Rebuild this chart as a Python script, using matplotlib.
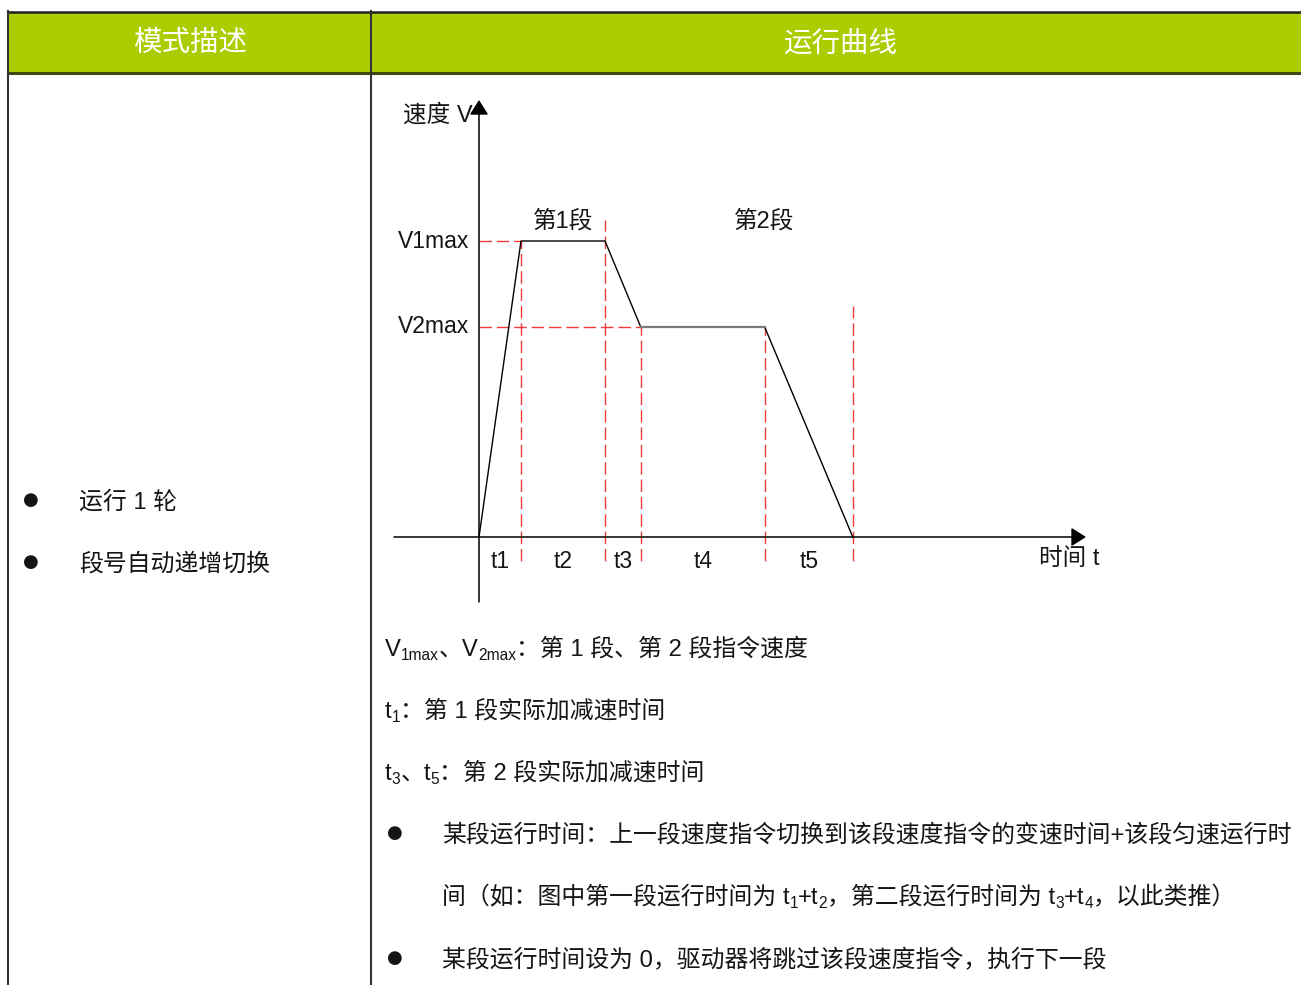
import matplotlib
matplotlib.use("Agg")
import matplotlib.pyplot as plt

plt.rcParams['font.family'] = ['Liberation Sans', 'Noto Sans CJK SC']

# data
headers = ['模式描述', '运行曲线']
left_items = ['运行 1 轮', '段号自动递增切换']
seg_times = [0, 1.0, 3.0, 3.85, 6.8, 8.9]      # t1..t5 boundaries
speeds = [0, 1.0, 1.0, 0.71, 0.71, 0]
t_labels = ['t1', 't2', 't3', 't4', 't5']
v_labels = ['V1max', 'V2max']
v_levels = [1.0, 0.71]
guide_tops = [1.0, 1.07, 0.71, 0.71, 0.78]      # top of each vertical guide
seg_names = ['第1段', '第2段']
seg_name_x = [2.0, 6.8]

W, H = 1301, 985
fig = plt.figure(figsize=(W / 100, H / 100), dpi=100)
ax = fig.add_axes([0, 0, 1, 1])
ax.set_xlim(0, W)
ax.set_ylim(H, 0)
ax.axis('off')

# table frame
GREEN = '#abcd00'
ax.fill_between([8, W], 12, 73, color=GREEN, lw=0)
ax.plot([8, W], [12, 12], color='#222222', lw=1.8)
ax.plot([8, W], [73, 73], color='#3d4a10', lw=2.2)
ax.plot([8, 8], [11, H], color='#333333', lw=1.5)
ax.plot([371, 371], [11, H], color='#333333', lw=1.5)
ax.text(190, 44, headers[0], color='white', fontsize=20.5, ha='center', va='center')
ax.text(841, 44, headers[1], color='white', fontsize=20.5, ha='center', va='center')

TXT = '#151515'
for y, s in zip([500, 562], left_items):
    ax.text(31, y, '●', fontsize=13, ha='center', va='center', color=TXT,
            family=['DejaVu Sans'])
    ax.text(79, y + 9, s, fontsize=17.2, ha='left', va='baseline', color=TXT)

renderer = fig.canvas.get_renderer()


def draw_runs(x, y, runs, size):
    # y is the text baseline in pixels; subscripts drop a little
    for s, sub in runs:
        fs = size * 0.65 if sub else size
        t = ax.text(x, y + (4 if sub else 0), s, fontsize=fs, ha='left',
                    va='baseline', color=TXT)
        x += t.get_window_extent(renderer).width


draw_runs(385, 656, [('V', 0), ('1max', 1), ('、V', 0), ('2max', 1),
                     ('：第 1 段、第 2 段指令速度', 0)], 17.2)
draw_runs(385, 718, [('t', 0), ('1', 1), ('：第 1 段实际加减速时间', 0)], 17.2)
draw_runs(385, 780, [('t', 0), ('3', 1), ('、t', 0), ('5', 1),
                     ('：第 2 段实际加减速时间', 0)], 17.2)

for y in [833, 958]:
    ax.text(395, y, '●', fontsize=13, ha='center', va='center', color=TXT,
            family=['DejaVu Sans'])
draw_runs(442, 842, [('某段运行时间：上一段速度指令切换到该段速度指令的变速时间+该段匀速运行时', 0)], 17.2)
draw_runs(442, 904, [('间（如：图中第一段运行时间为 t', 0), ('1', 1), ('+t', 0), ('2', 1),
                     ('，第二段运行时间为 t', 0), ('3', 1), ('+t', 0), ('4', 1),
                     ('，以此类推）', 0)], 17.2)
draw_runs(442, 967, [('某段运行时间设为 0，驱动器将跳过该段速度指令，执行下一段', 0)], 17.2)

# speed diagram in its own axes
OX, OY = 479, 537          # origin in pixels
PX_T, PX_V = 42.0, 296.0   # pixels per unit
bx0, bx1, by0, by1 = 380, 1110, 90, 610
dax = fig.add_axes([bx0 / W, 1 - by1 / H, (bx1 - bx0) / W, (by1 - by0) / H])
dax.set_xlim((bx0 - OX) / PX_T, (bx1 - OX) / PX_T)
dax.set_ylim((OY - by1) / PX_V, (OY - by0) / PX_V)
dax.axis('off')
dax.patch.set_alpha(0)

arrow = dict(arrowstyle='-|>,head_length=0.6,head_width=0.38', color='black',
             lw=1.1, mutation_scale=15, shrinkA=0, shrinkB=0)
dax.annotate('', xy=((1086 - OX) / PX_T, 0), xytext=((394 - OX) / PX_T, 0),
             arrowprops=arrow)
dax.annotate('', xy=(0, (OY - 100) / PX_V), xytext=(0, (OY - 602) / PX_V),
             arrowprops=arrow)

RED = '#f23a3a'
dash = dict(color=RED, lw=1.0, dashes=(9, 3.5))
guide_bottom = (OY - 561) / PX_V
for t, top in zip(seg_times[1:], guide_tops):
    dax.plot([t, t], [guide_bottom, top], **dash)
dax.plot([0, seg_times[1]], [v_levels[0]] * 2, **dash)
dax.plot([0, seg_times[3]], [v_levels[1]] * 2, **dash)

dax.plot(seg_times, speeds, color='black', lw=1.0)
dax.plot(seg_times[3:5], speeds[3:5], color='#7a7a7a', lw=1.6)

for i, lab in enumerate(t_labels):
    dax.text((seg_times[i] + seg_times[i + 1]) / 2, (OY - 562) / PX_V, lab,
             fontsize=16.5, ha='center', va='center', color=TXT)
for lab, v in zip(v_labels, v_levels):
    dax.text((469 - OX) / PX_T, v, lab, fontsize=16.5, ha='right', va='center',
             color=TXT)
for lab, t in zip(seg_names, seg_name_x):
    dax.text(t, (OY - 221) / PX_V, lab, fontsize=17, ha='center', va='center',
             color=TXT)
dax.text((473 - OX) / PX_T, (OY - 115) / PX_V, '速度 V', fontsize=17,
         ha='right', va='center', color=TXT)
dax.text((1039 - OX) / PX_T, (OY - 559) / PX_V, '时间 t', fontsize=17,
         ha='left', va='center', color=TXT)

fig.savefig('out.png', dpi=100)
